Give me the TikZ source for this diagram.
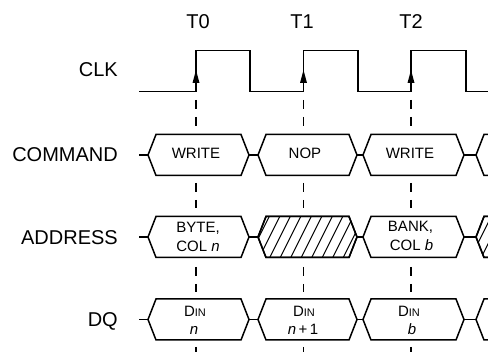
\documentclass[tikz,border=0pt]{standalone}
\usepackage{fontspec}
\setmainfont{Liberation Sans}
\newcommand\hexb[3]{(#1,#3) -- (#1+8,#3-20.5) -- (#2-8,#3-20.5) -- (#2,#3) -- (#2-8,#3+20.5) -- (#1+8,#3+20.5) -- cycle}
\newcommand\openhex[2]{(500,#2-20.5) -- (#1+8,#2-20.5) -- (#1,#2) -- (#1+8,#2+20.5) -- (500,#2+20.5)}
\newcommand\din{D{\fontsize{11}{11}\selectfont IN}}
\begin{document}
\begin{tikzpicture}[x=1pt,y=-1pt,
  sig/.style={line width=1.5pt, line join=miter},
  guide/.style={line width=1.1pt, dash pattern=on 9pt off 8pt},
  hatch/.style={line width=1.1pt},
  lbl/.style={font=\fontsize{20}{24}\selectfont, anchor=base east, inner sep=0},
  tlbl/.style={font=\fontsize{20}{24}\selectfont, anchor=base, inner sep=0},
  btxt/.style={font=\fontsize{15}{18}\selectfont, anchor=base, inner sep=0}]
\useasboundingbox (0,0) rectangle (488,352);
\fill[white] (0,0) rectangle (488,352);
% time labels
\node[tlbl] (t0) at (198,28.5) {T0};
\node[tlbl] (t1) at (302,28.5) {T1};
\node[tlbl] (t2) at (411,28.5) {T2};
% signal labels
\node[lbl] (clk)  at (118,77) {CLK};
\node[lbl] (cmd)  at (118,162) {COMMAND};
\node[lbl] (addr) at (118,245) {ADDRESS};
\node[lbl] (dq)   at (118,326.5) {DQ};
% dashed guides
\foreach \x in {196,303.5,411} {
  \draw[guide] (\x,100) -- (\x,127);
  \draw[guide] (\x,183) -- (\x,208);
  \draw[guide] (\x,267) -- (\x,292);
  \draw[guide] (\x,347) -- (\x,356);
}
% clock
\draw[sig] (139,91.5) -- (196,91.5) -- (196,50.5) -- (250,50.5) -- (250,91.5)
  -- (303.5,91.5) -- (303.5,50.5) -- (358,50.5) -- (358,91.5)
  -- (411,91.5) -- (411,50.5) -- (466,50.5) -- (466,91.5) -- (492,91.5);
\foreach \x in {196,303.5,411}
  \fill (\x-3.5,83) -- (\x,70) -- (\x+3.5,83) -- cycle;
% bus rows
\foreach \m in {155,237,319.5} {
  \draw[sig] (139,\m) -- (148,\m);
  \draw[sig] (249,\m) -- (258,\m);
  \draw[sig] (357,\m) -- (363,\m);
  \draw[sig] (464,\m) -- (476,\m);
  \filldraw[sig,fill=white] \hexb{148}{249}{\m};
  \filldraw[sig,fill=white] \hexb{258}{357}{\m};
  \filldraw[sig,fill=white] \hexb{363}{464}{\m};
  \draw[sig] \openhex{476}{\m};
}
% hatched address slots
\begin{scope}
  \clip \hexb{258}{357}{237};
  \foreach \i in {0,...,12} \draw[hatch] (236+\i*10.5,262) -- ++(25,-50);
\end{scope}
\draw[sig] \hexb{258}{357}{237};
\begin{scope}
  \clip (500,216.5) -- (484,216.5) -- (476,237) -- (484,257.5) -- (500,257.5) -- cycle;
  \foreach \i in {0,...,3} \draw[hatch] (458+\i*10.5,262) -- ++(25,-50);
\end{scope}
\draw[sig] \openhex{476}{237};
% command texts
\node[btxt] (c1) at (196,158.5) {WRITE};
\node[btxt] (c2) at (305,158.5) {NOP};
\node[btxt] (c3) at (410,158.5) {WRITE};
% address texts
\node[btxt] (a1a) at (198,232.5) {BYTE,};
\node[btxt] (a1b) at (198,251.5) {COL \textit{n}};
\node[btxt] (a3a) at (410.5,232) {BANK,};
\node[btxt] (a3b) at (411.5,250.5) {COL \textit{b}};
% data texts
\node[btxt] (d1a) at (195,316.5) {\din};
\node[btxt] (d1b) at (194,335) {\textit{n}};
\node[btxt] (d2a) at (304,316.5) {\din};
\node[btxt] (d2b) at (303,335) {\textit{n}\,+\,1};
\node[btxt] (d3a) at (409,316.5) {\din};
\node[btxt] (d3b) at (412,335) {\textit{b}};
\end{tikzpicture}
\end{document}
